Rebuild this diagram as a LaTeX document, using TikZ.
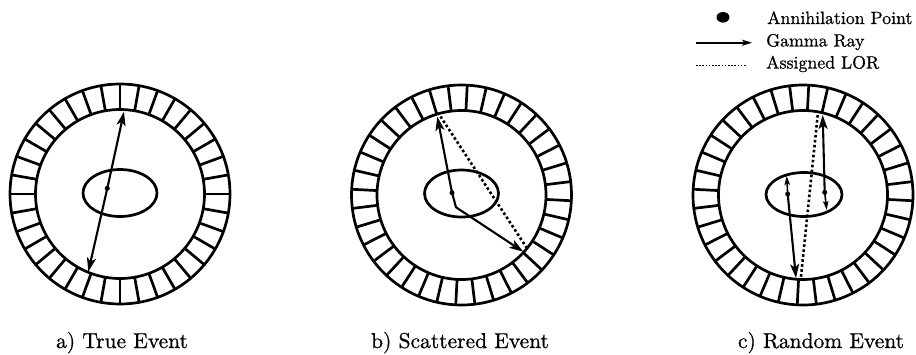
\documentclass[tikz,border=0pt]{standalone}
\usepackage{fontspec}
\newfontfamily\figserif{lmroman10-regular.otf}[FakeBold=0.7]
\usetikzlibrary{arrows.meta}
\begin{document}
\begin{tikzpicture}[x=1pt,y=-1pt,
  ringline/.style={line width=2.7pt},
  ray/.style={line width=2.1pt,line join=round,-{Stealth[length=14pt,width=9pt,inset=3.5pt]}},
  shortray/.style={line width=1.6pt,-{Stealth[length=9pt,width=5.5pt,inset=2pt]}},
  legray/.style={line width=1.8pt,-{Stealth[length=10pt,width=6pt,inset=2.5pt]}},
  lor/.style={line width=2.6pt,dash pattern=on 2.6pt off 2.4pt},
  leglor/.style={line width=1.8pt,dash pattern=on 1.6pt off 1.6pt},
  caption/.style={font=\figserif\fontsize{21.5}{26}\selectfont,anchor=base,inner sep=0pt},
  legtext/.style={font=\figserif\fontsize{17.8}{22}\selectfont,anchor=base west,inner sep=0pt}]
\useasboundingbox (0,0) rectangle (916,354);

% detector rings
\foreach \cx/\cy/\off in {120/194/0, 461.5/195/3, 803/195/3}{
  \draw[ringline] (\cx,\cy) circle[radius=110];
  \draw[ringline] (\cx,\cy) circle[radius=84.5];
  \foreach \k in {0,...,35}{
    \draw[ringline] ([shift={(\cx,\cy)}]\k*10+\off:84.5) -- ([shift={(\cx,\cy)}]\k*10+\off:110);
  }
}
% phantoms
\draw[ringline] (120,193) ellipse[x radius=37, y radius=23.5];
\draw[ringline] (461.5,193.5) ellipse[x radius=37, y radius=23.5];
\draw[ringline] (804,194.5) ellipse[x radius=38, y radius=22];

% a) true event
\coordinate (ap) at (107.3,188.3);
\coordinate (at) at (124,111.7);
\coordinate (ab) at (88.3,271.7);
\fill (ap) circle[radius=2.5];
\draw[ray] (ap) -- (at);
\draw[ray] (ap) -- (ab);

% b) scattered event
\coordinate (bp) at (452,192.7);
\coordinate (bt) at (437.3,116.7);
\coordinate (bk) at (456,207.3);
\coordinate (bb) at (523.3,251.7);
\coordinate (bl1) at (440.5,116.5);
\coordinate (bl2) at (526.5,247.5);
\draw[lor] (bl1) -- (bl2);
\fill (bp) circle[radius=2.5];
\draw[ray] (bp) -- (bt);
\draw[ray] (bp) -- (bk) -- (bb);

% c) random event
\coordinate (cp1) at (787.7,194);
\coordinate (cu1) at (786.7,176);
\coordinate (cd1) at (796,278);
\coordinate (cp2) at (824.7,192.3);
\coordinate (cu2) at (822.7,115);
\coordinate (cd2) at (826.7,210);
\coordinate (cl1) at (817.7,115);
\coordinate (cl2) at (800.7,279.5);
\draw[lor] (cl1) -- (cl2);
\fill (cp1) circle[radius=2.5];
\fill (cp2) circle[radius=2.5];
\draw[shortray] (cp1) -- (cu1);
\draw[ray] (cp1) -- (cd1);
\draw[ray] (cp2) -- (cu2);
\draw[shortray] (cp2) -- (cd2);

% legend
\coordinate (ldot) at (723,17.3);
\fill (ldot) ellipse[x radius=6.5, y radius=5.3];
\coordinate (lr1) at (696,42.7);
\coordinate (lr2) at (752,42.7);
\draw[legray] (lr1) -- (lr2);
\coordinate (ll1) at (696,65.5);
\coordinate (ll2) at (747,65.5);
\draw[leglor] (ll1) -- (ll2);
\node[legtext] (t1) at (767,24) {Annihilation Point};
\node[legtext] (t2) at (766,46.5) {Gamma Ray};
\node[legtext] (t3) at (766,68.5) {Assigned LOR};

% captions
\node[caption] (capa) at (122,348) {a) True Event};
\node[caption] (capb) at (460,348) {b) Scattered Event};
\node[caption] (capc) at (821,348) {c) Random Event};
\end{tikzpicture}
\end{document}
